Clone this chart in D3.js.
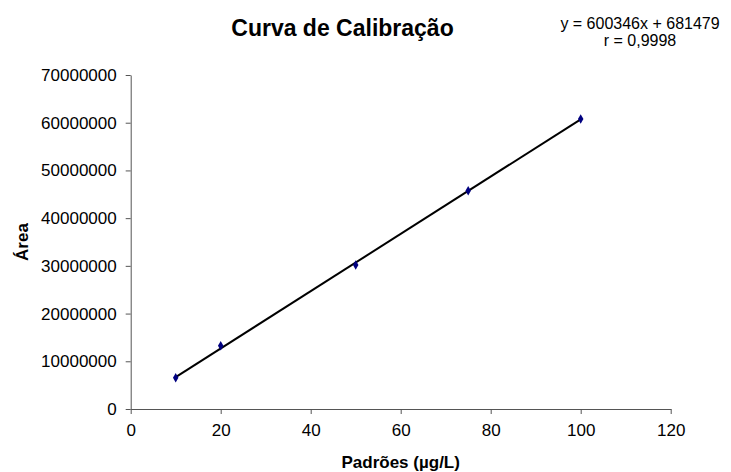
<!DOCTYPE html>
<html lang="pt">
<head>
    <meta charset="UTF-8">
    <title>Curva de Calibração</title>
    <script src="https://d3js.org/d3.v7.min.js"></script>
    <style>
        body {
            margin: 0;
            background: white;
            font-family: Arial, "Liberation Sans", sans-serif;
        }
        .axis text {
            font-family: Arial, "Liberation Sans", sans-serif;
            font-size: 17px;
            fill: black;
        }
        .axis path, .axis line {
            stroke: #555;
            stroke-width: 1;
        }
    </style>
</head>
<body>
    <div class="svg-container"></div>
    <script>
        // padrões (µg/L) e áreas
        var padroes = [10, 20, 50, 75, 100];
        var areas = [6560000, 13270000, 30180000, 45750000, 60800000];
        var xTicks = [0, 20, 40, 60, 80, 100, 120];
        var yTicks = [0, 10000000, 20000000, 30000000, 40000000, 50000000, 60000000, 70000000];
        var slope = 600346;
        var intercept = 681479;
        var equationLines = ["y = 600346x + 681479", "r = 0,9998"];

        var width = 731;
        var height = 472;

        var svg = d3.select(".svg-container").append("svg")
            .attr("width", width)
            .attr("height", height);

        var x = d3.scaleLinear().domain([0, 120]).range([130.7, 670.7]);
        var y = d3.scaleLinear().domain([0, 70000000]).range([409, 75]);

        // eixo x
        svg.append("g")
            .attr("class", "axis")
            .attr("transform", "translate(0," + y(0) + ")")
            .call(d3.axisBottom(x).tickValues(xTicks).tickSize(5).tickSizeOuter(0).tickPadding(10).tickFormat(d3.format("d")));

        // eixo y
        svg.append("g")
            .attr("class", "axis")
            .attr("transform", "translate(" + x(0) + ",0)")
            .call(d3.axisLeft(y).tickValues(yTicks).tickSize(5).tickSizeOuter(0).tickPadding(9).tickFormat(d3.format("d")));

        // linha de tendência
        var trend = [padroes[0], padroes[padroes.length - 1]].map(function(p) {
            return [p, slope * p + intercept];
        });
        svg.append("path")
            .datum(trend)
            .attr("fill", "none")
            .attr("stroke", "black")
            .attr("stroke-width", 2)
            .attr("d", d3.line().x(function(d) { return x(d[0]); }).y(function(d) { return y(d[1]); }));

        // pontos
        svg.selectAll(".pt")
            .data(padroes)
            .enter().append("path")
            .attr("class", "pt")
            .attr("transform", function(d, i) { return "translate(" + x(d) + "," + y(areas[i]) + ")"; })
            .attr("d", d3.symbol().type(d3.symbolDiamond).size(26))
            .attr("fill", "#000080");

        // títulos
        svg.append("text")
            .attr("x", 342.5)
            .attr("y", 36)
            .attr("text-anchor", "middle")
            .attr("font-size", 23)
            .attr("font-weight", "bold")
            .text("Curva de Calibração");

        svg.append("text")
            .attr("x", 400.7)
            .attr("y", 468)
            .attr("text-anchor", "middle")
            .attr("font-size", 17)
            .attr("font-weight", "bold")
            .text("Padrões (µg/L)");

        svg.append("text")
            .attr("transform", "translate(28," + y(35000000) + ") rotate(-90)")
            .attr("text-anchor", "middle")
            .attr("font-size", 17)
            .attr("font-weight", "bold")
            .text("Área");

        svg.selectAll(".eq")
            .data(equationLines)
            .enter().append("text")
            .attr("class", "eq")
            .attr("x", 640)
            .attr("y", function(d, i) { return 28.5 + i * 17; })
            .attr("text-anchor", "middle")
            .attr("font-size", 16)
            .text(function(d) { return d; });
    </script>
</body>
</html>
